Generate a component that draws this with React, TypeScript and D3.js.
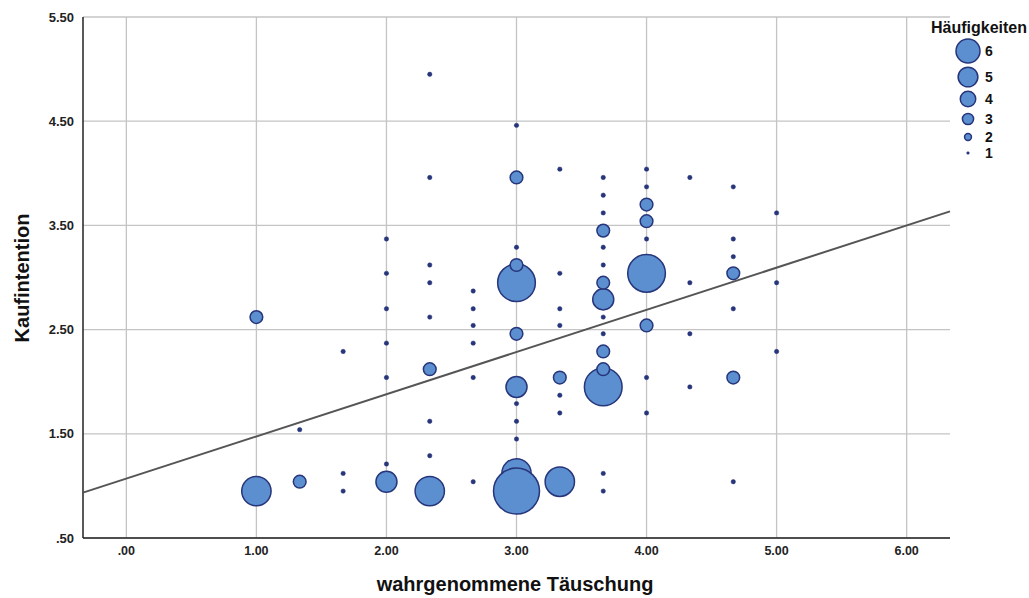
import React, { useEffect, useRef } from 'react';
import * as d3 from 'd3';

// wahrgenommene Täuschung (x), Kaufintention (y), Häufigkeit (n) - one entry per bubble
const taeuschung = [
  1.0, 1.0,
  1.333, 1.333,
  1.667, 1.667, 1.667,
  2.0, 2.0, 2.0, 2.0, 2.0, 2.0, 2.0,
  2.333, 2.333, 2.333, 2.333, 2.333, 2.333, 2.333, 2.333, 2.333,
  2.667, 2.667, 2.667, 2.667, 2.667, 2.667,
  3.0, 3.0, 3.0, 3.0, 3.0, 3.0, 3.0, 3.0, 3.0, 3.0, 3.0, 3.0,
  3.333, 3.333, 3.333, 3.333, 3.333, 3.333, 3.333, 3.333,
  3.667, 3.667, 3.667, 3.667, 3.667, 3.667, 3.667, 3.667, 3.667, 3.667, 3.667, 3.667, 3.667, 3.667, 3.667,
  4.0, 4.0, 4.0, 4.0, 4.0, 4.0, 4.0, 4.0, 4.0,
  4.333, 4.333, 4.333, 4.333,
  4.667, 4.667, 4.667, 4.667, 4.667, 4.667, 4.667,
  5.0, 5.0, 5.0,
];

const kaufintention = [
  0.95, 2.62,
  1.04, 1.54,
  2.29, 1.12, 0.95,
  3.37, 3.04, 2.7, 2.37, 2.04, 1.21, 1.04,
  4.95, 3.96, 3.12, 2.95, 2.62, 2.12, 1.62, 1.29, 0.95,
  2.87, 2.7, 2.54, 2.37, 2.04, 1.04,
  4.46, 3.96, 3.29, 2.95, 3.12, 2.46, 1.95, 1.79, 1.62, 1.45, 1.12, 0.95,
  4.04, 3.04, 2.7, 2.54, 2.04, 1.87, 1.7, 1.04,
  3.96, 3.79, 3.62, 3.45, 3.29, 3.12, 1.95, 2.79, 2.95, 2.62, 2.46, 2.29, 2.12, 1.12, 0.95,
  4.04, 3.87, 3.7, 3.54, 3.37, 3.04, 2.54, 2.04, 1.7,
  3.96, 2.95, 2.46, 1.95,
  3.87, 3.37, 3.2, 3.04, 2.7, 2.04, 1.04,
  3.62, 2.95, 2.29,
];

const haeufigkeit = [
  4, 2,
  2, 1,
  1, 1, 1,
  1, 1, 1, 1, 1, 1, 3,
  1, 1, 1, 1, 1, 2, 1, 1, 4,
  1, 1, 1, 1, 1, 1,
  1, 2, 1, 5, 2, 2, 3, 1, 1, 1, 4, 6,
  1, 1, 1, 1, 2, 1, 1, 4,
  1, 1, 1, 2, 1, 1, 5, 3, 2, 1, 1, 2, 2, 1, 1,
  1, 1, 2, 2, 1, 5, 2, 1, 1,
  1, 1, 1, 1,
  1, 1, 1, 2, 1, 2, 1,
  1, 1, 1,
];

const xTicks = [0, 1, 2, 3, 4, 5, 6];
const yTicks = [0.5, 1.5, 2.5, 3.5, 4.5, 5.5];
const legendValues = [6, 5, 4, 3, 2, 1];

// linear fit line
const fitIntercept = 1.07;
const fitSlope = 0.405;

const FONT = '"Liberation Sans", Arial, Helvetica, sans-serif';

const App = () => {
  const svgRef = useRef(null);

  useEffect(() => {
    const svg = d3.select(svgRef.current);
    svg.selectAll('*').remove();

    const plot = { left: 83, right: 950, top: 17, bottom: 538 };

    const x = d3.scaleLinear().domain([-1 / 3, 19 / 3]).range([plot.left, plot.right]);
    const y = d3.scaleLinear().domain([0.5, 5.5]).range([plot.bottom, plot.top]);
    const r = d3.scaleLinear().domain([1, 6]).range([2.2, 23]);
    const rLegend = d3.scaleLinear().domain([1, 6]).range([1.3, 12]);

    const fill = '#5b8fcf';
    const stroke = '#27357a';

    // grid
    svg.append('g')
      .selectAll('line')
      .data(xTicks)
      .enter()
      .append('line')
      .attr('x1', (d) => x(d))
      .attr('x2', (d) => x(d))
      .attr('y1', plot.top)
      .attr('y2', plot.bottom)
      .attr('stroke', '#c4c4c4')
      .attr('stroke-width', 1.3);

    svg.append('g')
      .selectAll('line')
      .data(yTicks)
      .enter()
      .append('line')
      .attr('x1', plot.left)
      .attr('x2', plot.right)
      .attr('y1', (d) => y(d))
      .attr('y2', (d) => y(d))
      .attr('stroke', '#c4c4c4')
      .attr('stroke-width', 1.3);

    // axis lines
    svg.append('line')
      .attr('x1', plot.left).attr('x2', plot.left)
      .attr('y1', plot.top).attr('y2', plot.bottom)
      .attr('stroke', '#222').attr('stroke-width', 1.5);
    svg.append('line')
      .attr('x1', plot.left).attr('x2', plot.right)
      .attr('y1', plot.bottom).attr('y2', plot.bottom)
      .attr('stroke', '#222').attr('stroke-width', 1.5);

    // tick labels
    const fmt = (d) => d3.format('.2f')(d).replace(/^0/, '');
    svg.append('g')
      .selectAll('text')
      .data(yTicks)
      .enter()
      .append('text')
      .attr('x', 74)
      .attr('y', (d) => y(d) + 4.5)
      .attr('text-anchor', 'end')
      .style('font-family', FONT)
      .style('font-weight', 'bold')
      .style('font-size', '13px')
      .attr('fill', '#222')
      .text(fmt);

    svg.append('g')
      .selectAll('text')
      .data(xTicks)
      .enter()
      .append('text')
      .attr('x', (d) => x(d))
      .attr('y', 555)
      .attr('text-anchor', 'middle')
      .style('font-family', FONT)
      .style('font-weight', 'bold')
      .style('font-size', '12.5px')
      .attr('fill', '#222')
      .text(fmt);

    // axis titles
    svg.append('text')
      .attr('x', 515)
      .attr('y', 591)
      .attr('text-anchor', 'middle')
      .style('font-family', FONT)
      .style('font-weight', 'bold')
      .style('font-size', '20px')
      .attr('fill', '#111')
      .text('wahrgenommene Täuschung');

    svg.append('text')
      .attr('transform', 'translate(29,278) rotate(-90)')
      .attr('text-anchor', 'middle')
      .style('font-family', FONT)
      .style('font-weight', 'bold')
      .style('font-size', '20px')
      .attr('fill', '#111')
      .text('Kaufintention');

    // fit line
    const line = d3.line()
      .x((d) => x(d))
      .y((d) => y(fitIntercept + fitSlope * d));
    svg.append('path')
      .datum([-1 / 3, 19 / 3])
      .attr('d', line)
      .attr('fill', 'none')
      .attr('stroke', '#555')
      .attr('stroke-width', 2);

    // bubbles
    svg.append('g')
      .selectAll('circle')
      .data(d3.range(taeuschung.length))
      .enter()
      .append('circle')
      .attr('cx', (i) => x(taeuschung[i]))
      .attr('cy', (i) => y(kaufintention[i]))
      .attr('r', (i) => r(haeufigkeit[i]))
      .attr('fill', (i) => (haeufigkeit[i] === 1 ? stroke : fill))
      .attr('stroke', stroke)
      .attr('stroke-width', (i) => (haeufigkeit[i] === 1 ? 0.5 : 1.5));

    // legend
    const legendYs = { 6: 51, 5: 77, 4: 99, 3: 119, 2: 137, 1: 153 };
    const legend = svg.append('g');
    legend.append('text')
      .attr('x', 931)
      .attr('y', 33)
      .style('font-family', FONT)
      .style('font-weight', 'bold')
      .style('font-size', '16px')
      .attr('fill', '#111')
      .text('Häufigkeiten');

    const items = legend.selectAll('g.item')
      .data(legendValues)
      .enter()
      .append('g')
      .attr('class', 'item')
      .attr('transform', (d) => `translate(968,${legendYs[d]})`);
    items.append('circle')
      .attr('r', (d) => rLegend(d))
      .attr('fill', (d) => (d === 1 ? stroke : fill))
      .attr('stroke', stroke)
      .attr('stroke-width', (d) => (d === 1 ? 0.5 : 1.5));
    items.append('text')
      .attr('x', 17)
      .attr('y', 5)
      .style('font-family', FONT)
      .style('font-weight', 'bold')
      .style('font-size', '14px')
      .attr('fill', '#111')
      .text((d) => d);
  }, []);

  return (
    <svg
      ref={svgRef}
      width={1029}
      height={598}
      style={{ position: 'absolute', left: 0, top: 0, background: '#fff' }}
    />
  );
};

export default App;
